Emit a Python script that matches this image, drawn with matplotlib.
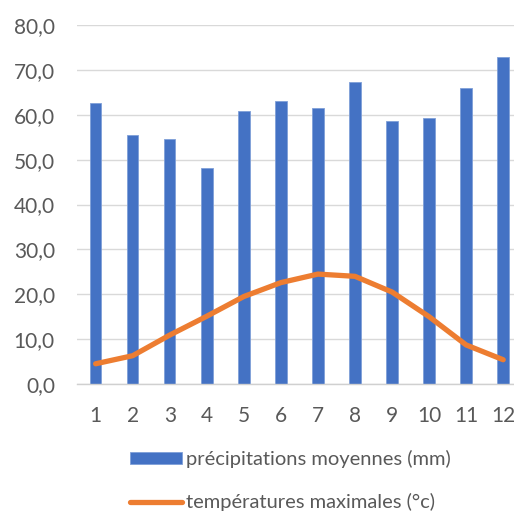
import numpy as np
import matplotlib.pyplot as plt
from matplotlib.ticker import FuncFormatter

mois = [1, 2, 3, 4, 5, 6, 7, 8, 9, 10, 11, 12]
precipitations = [62.6, 55.6, 54.6, 48.2, 60.9, 63.1, 61.5, 67.3, 58.7, 59.3, 66.1, 72.9]
temperatures = [4.5, 6.3, 10.9, 15.1, 19.5, 22.6, 24.5, 24.0, 20.5, 15.0, 8.7, 5.4]

bleu = '#4472C4'
orange = '#ED7D31'
gris = '#595959'

plt.rcParams['font.family'] = ['Lato', 'DejaVu Sans']

fig = plt.figure(figsize=(5.14, 5.14), dpi=100)
ax = fig.add_axes([0.150, 0.253, 0.865, 0.698])

x = np.arange(len(mois))
barres = ax.bar(x, precipitations, width=0.31, color=bleu, edgecolor='#7f9fd8', linewidth=0.6,
                label='précipitations moyennes (mm)', zorder=2)
ligne, = ax.plot(x, temperatures, color=orange, linewidth=3.8, solid_capstyle='round',
                 label='températures maximales (°c)', zorder=3)

ax.set_xlim(-0.5, len(mois) - 0.5)
ax.set_ylim(0, 80)
ax.set_yticks(np.arange(0, 81, 10))
ax.yaxis.set_major_formatter(FuncFormatter(lambda v, p: f'{v:.1f}'.replace('.', ',')))
ax.set_xticks(x)
ax.set_xticklabels([str(m) for m in mois])

ax.grid(axis='y', color='#d9d9d9', linewidth=1.0, zorder=0)
ax.set_axisbelow(True)
for s in ['top', 'right', 'left']:
    ax.spines[s].set_visible(False)
ax.spines['bottom'].set_color('#d0d0d0')
ax.spines['bottom'].set_linewidth(1.0)
ax.tick_params(axis='both', length=0, labelsize=15, colors=gris)
ax.tick_params(axis='y', pad=16)
ax.tick_params(axis='x', pad=16)

leg = fig.legend([barres, ligne], [barres.get_label(), ligne.get_label()],
                 loc='lower center', bbox_to_anchor=(0.565, -0.030), ncol=1, frameon=False,
                 fontsize=14.5, handlelength=2.6, handleheight=0.6, handletextpad=0.2,
                 labelspacing=1.25)
for t in leg.get_texts():
    t.set_color(gris)

fig.savefig('out.png', dpi=100)
